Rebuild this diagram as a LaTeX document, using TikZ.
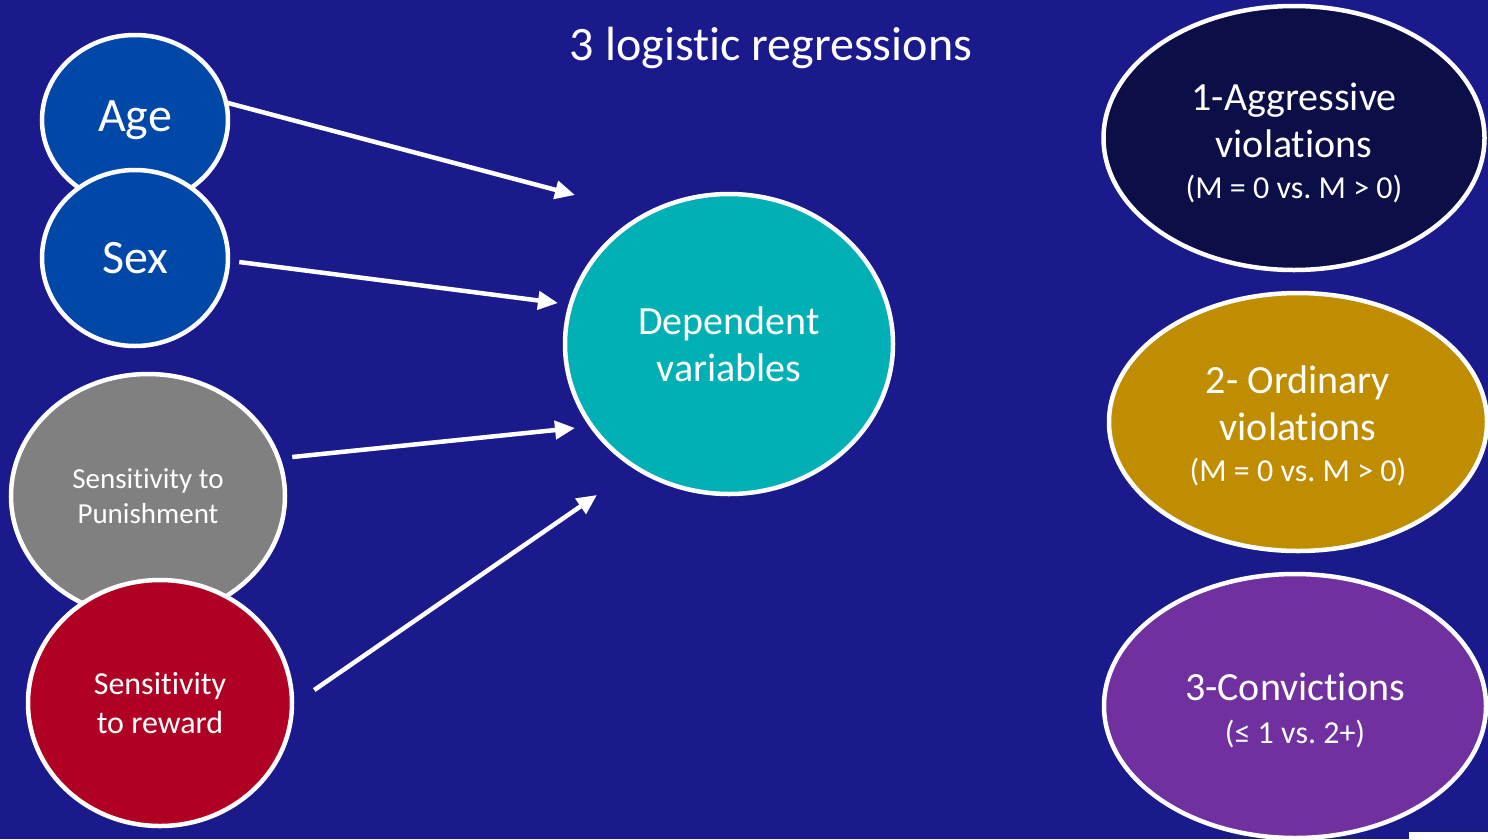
\documentclass[tikz,border=0pt]{standalone}
\usepackage{fontspec}
\setmainfont[Ligatures=NoCommon]{Carlito}
\usetikzlibrary{shapes.geometric,arrows.meta}
\frenchspacing
\definecolor{bg}{RGB}{26,26,140}
\definecolor{agec}{RGB}{0,72,168}
\definecolor{punc}{RGB}{128,128,128}
\definecolor{rewc}{RGB}{176,0,36}
\definecolor{depc}{RGB}{0,176,180}
\definecolor{aggc}{RGB}{12,14,72}
\definecolor{ordc}{RGB}{192,140,0}
\definecolor{conc}{RGB}{112,48,160}
\newcommand{\fsz}[2]{\fontsize{#1}{#2}\selectfont}
\newcommand{\smallline}[1]{{\fontsize{32}{36}\selectfont #1}}
\tikzset{
  blob/.style={ellipse, draw=white, line width=4.5pt, inner sep=0pt, text=white, align=center},
  txt/.style={text=white, align=center, inner sep=0pt, font=\fsz{40}{47}},
  arr/.style={draw=white, line width=4.5pt, -{Triangle[length=20pt,width=18pt]}}
}
\begin{document}
\begin{tikzpicture}[x=1pt,y=-1pt]
\fill[bg] (0,0) rectangle (1488,839);
\useasboundingbox (0,0) rectangle (1488,839);
\fill[white] (1409,832) rectangle (1488,839);
\node[text=white, font=\fsz{48}{52}] (title) at (771,48) {3 logistic regressions};
\node[blob, fill=agec, minimum width=186pt, minimum height=170pt, font=\fsz{48}{52}] (age) at (135,120) {Age};
\node[blob, fill=agec, minimum width=186pt, minimum height=176pt, font=\fsz{48}{52}] (sex) at (135,258) {Sex};
\node[blob, fill=punc, minimum width=274pt, minimum height=244pt, font=\fsz{29}{35}] (pun) at (148,496) {Sensitivity to\\Punishment};
\node[blob, fill=rewc, minimum width=264pt, minimum height=246pt, font=\fsz{32}{39}] (rew) at (160,703) {Sensitivity\\to reward};
\node[blob, fill=depc, minimum width=328pt, minimum height=300pt, font=\fsz{40}{47}] (dep) at (729,344) {Dependent\\variables};
\node[blob, fill=aggc, minimum width=381pt, minimum height=264pt] (agg) at (1294,138) {};
\node[blob, fill=ordc, minimum width=378pt, minimum height=258pt] (ord) at (1298,422) {};
\node[blob, fill=conc, minimum width=382pt, minimum height=264pt] (con) at (1295,706) {};
\node[txt] (aggt) at ([yshift=-5pt]agg.center) {1-Aggressive\\violations\\[-6pt]\smallline{(M = 0 vs. M > 0)}};
\node[txt] (ordt) at ([yshift=-4pt]ord.center) {2- Ordinary\\violations\\[-6pt]\smallline{(M = 0 vs. M > 0)}};
\node[txt] (cont) at ([yshift=-4pt]con.center) {3-Convictions\\[-4pt]\smallline{(≤ 1 vs. 2+)}};
\coordinate (e1) at (575,195);
\coordinate (e2) at (558,303);
\coordinate (e3) at (575,428);
\coordinate (e4) at (597,495);
\draw[arr] (age.east) ++(-6,-18) -- (e1);
\draw[arr] (sex.east) ++(9,4) -- (e2);
\draw[arr] (pun.east) ++(5,-39) -- (e3);
\draw[arr] (rew.east) ++(20,-13) -- (e4);
\end{tikzpicture}
\end{document}
